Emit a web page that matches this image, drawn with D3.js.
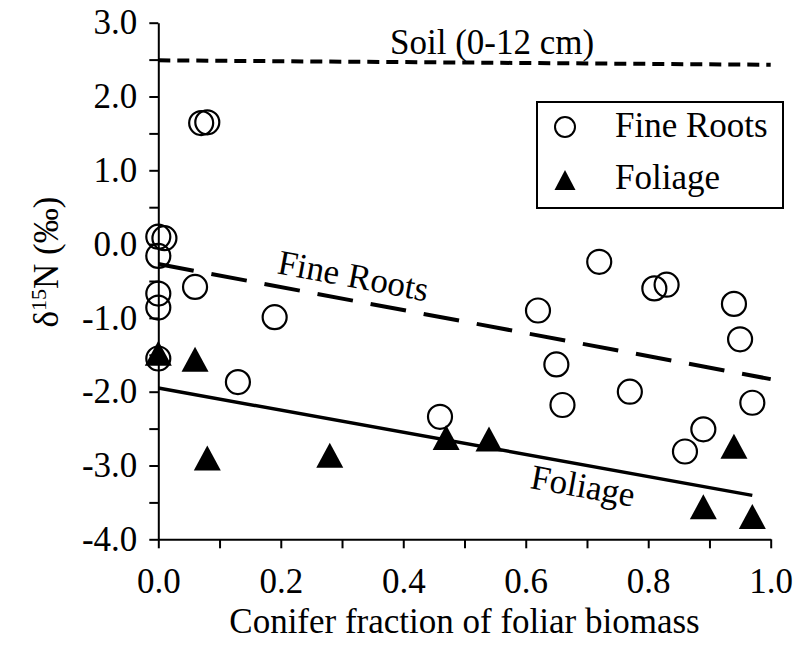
<!DOCTYPE html>
<html>
<head>
<meta charset="utf-8">
<script src="https://cdn.jsdelivr.net/npm/d3@7"></script>
<style>
  body { margin: 0; background: #fff; }
</style>
</head>
<body>
<div id="draw"></div>
<script>
// fine roots
const rootX = [0.0, 0.01, 0.0, 0.0, 0.0, 0.0, 0.06, 0.07, 0.08, 0.13, 0.19, 0.46, 0.62, 0.65, 0.66, 0.72, 0.77, 0.81, 0.83, 0.86, 0.89, 0.94, 0.95, 0.97]
const rootY = [0.10, 0.08, -0.16, -0.67, -0.86, -1.55, -0.58, 1.64, 1.65, -1.87, -0.99, -2.34, -0.90, -1.63, -2.18, -0.24, -2.00, -0.60, -0.55, -2.81, -2.51, -0.81, -1.29, -2.15]

// foliage
const folX = [0.0, 0.06, 0.08, 0.28, 0.47, 0.54, 0.89, 0.94, 0.97]
const folY = [-1.48, -1.56, -2.90, -2.86, -2.62, -2.64, -3.56, -2.74, -3.69]

// fitted lines and soil reference
const rootFitX = [0, 1.0]
const rootFitY = [-0.27, -1.83]
const folFitX = [0, 0.97]
const folFitY = [-1.95, -3.405]
const soilX = [0, 1.0]
const soilY = [2.49, 2.43]

const xTicks = d3.range(0, 11).map(function (i) { return i / 10 })
const yTicks = d3.range(-8, 7).map(function (i) { return i / 2 })

const width = 794
const height = 645
const serif = '"Liberation Serif", "Times New Roman", "DejaVu Serif", serif'

let svg = d3.select('#draw')
  .append('svg')
  .attr('width', width)
  .attr('height', height)

let xScale = d3.scaleLinear().domain([0, 1]).range([158.3, 770.7])
let yScale = d3.scaleLinear().domain([-4, 3]).range([539.3, 22.7])

// plain hyphen for negatives, like the original
let fmt = function (d) { return d.toFixed(1) }

let xAxis = d3.axisBottom(xScale)
  .tickValues(xTicks)
  .tickSize(9)
  .tickSizeOuter(0)
  .tickPadding(20)
  .tickFormat(function (d, i) { return i % 2 === 0 ? fmt(d) : '' })

let yAxis = d3.axisLeft(yScale)
  .tickValues(yTicks)
  .tickSize(9)
  .tickSizeOuter(0)
  .tickPadding(12)
  .tickFormat(function (d) { return Number.isInteger(d) ? fmt(d) : '' })

svg.append('g')
  .attr('class', 'x axis')
  .attr('transform', 'translate(0,' + yScale(-4) + ')')
  .call(xAxis)

svg.append('g')
  .attr('class', 'y axis')
  .attr('transform', 'translate(' + xScale(0) + ',0)')
  .call(yAxis)

svg.selectAll('.axis path, .axis line')
  .attr('stroke', '#000')
  .attr('stroke-width', 2)
svg.selectAll('.axis').attr('font-family', null).attr('font-size', null)
svg.selectAll('.axis text')
  .attr('fill', '#000')

// lines
let line = d3.line()
  .x(function (d) { return xScale(d[0]) })
  .y(function (d) { return yScale(d[1]) })

svg.append('path')
  .datum(d3.zip(soilX, soilY))
  .attr('d', line)
  .attr('fill', 'none')
  .attr('stroke', '#000')
  .attr('stroke-width', 4)
  .attr('stroke-dasharray', '12,7')

svg.append('path')
  .datum(d3.zip(rootFitX, rootFitY))
  .attr('d', line)
  .attr('fill', 'none')
  .attr('stroke', '#000')
  .attr('stroke-width', 4)
  .attr('stroke-dasharray', '36,18')

svg.append('path')
  .datum(d3.zip(folFitX, folFitY))
  .attr('d', line)
  .attr('fill', 'none')
  .attr('stroke', '#000')
  .attr('stroke-width', 3.5)

// triangle centred on its bounding box
function triangle (w, h) {
  return 'M0,' + (-h / 2) + 'L' + (w / 2) + ',' + (h / 2) + 'L' + (-w / 2) + ',' + (h / 2) + 'Z'
}

svg.selectAll('.root')
  .data(d3.zip(rootX, rootY))
  .enter().append('circle')
  .attr('class', 'root')
  .attr('cx', function (d) { return xScale(d[0]) })
  .attr('cy', function (d) { return yScale(d[1]) })
  .attr('r', 12)
  .attr('fill', 'none')
  .attr('stroke', '#000')
  .attr('stroke-width', 2.2)

svg.selectAll('.fol')
  .data(d3.zip(folX, folY))
  .enter().append('path')
  .attr('class', 'fol')
  .attr('d', triangle(27, 25))
  .attr('transform', function (d) { return 'translate(' + xScale(d[0]) + ',' + yScale(d[1]) + ')' })
  .attr('fill', '#000')

// line labels
let slope = function (xs, ys) {
  return Math.atan2(yScale(ys[1]) - yScale(ys[0]), xScale(xs[1]) - xScale(xs[0])) * 180 / Math.PI
}

svg.append('text')
  .attr('x', xScale(0.545))
  .attr('y', yScale(d3.mean(soilY)) - 9)
  .attr('text-anchor', 'middle')
  .text('Soil (0-12 cm)')

let rootLab = 0.315
let rootAt = rootFitY[0] + (rootFitY[1] - rootFitY[0]) * rootLab
svg.append('text')
  .attr('text-anchor', 'middle')
  .attr('transform', 'translate(' + xScale(rootLab) + ',' + (yScale(rootAt) - 13) + ') rotate(' + slope(rootFitX, rootFitY) + ')')
  .text('Fine Roots')

let folLab = 0.69
let folAt = folFitY[0] + (folFitY[1] - folFitY[0]) * folLab / folFitX[1]
svg.append('text')
  .attr('text-anchor', 'middle')
  .attr('transform', 'translate(' + xScale(folLab) + ',' + (yScale(folAt) + 33) + ') rotate(' + slope(folFitX, folFitY) + ')')
  .text('Foliage')

// axis titles
svg.append('text')
  .attr('x', (xScale(0) + xScale(1)) / 2)
  .attr('y', 633)
  .attr('text-anchor', 'middle')
  .text('Conifer fraction of foliar biomass')

let yTitle = svg.append('text')
  .attr('transform', 'translate(58,262) rotate(-90)')
  .attr('text-anchor', 'middle')
yTitle.append('tspan').text('δ')
yTitle.append('tspan').attr('dy', -12).style('font-size', '22px').text('15')
yTitle.append('tspan').attr('dy', 12).text('N (‰)')

// legend
let legend = svg.append('g').attr('class', 'legend')
legend.append('rect')
  .attr('x', 537)
  .attr('y', 102)
  .attr('width', 246)
  .attr('height', 106)
  .attr('fill', '#fff')
  .attr('stroke', '#000')
  .attr('stroke-width', 2)
legend.append('circle')
  .attr('cx', 565)
  .attr('cy', 127)
  .attr('r', 10)
  .attr('fill', 'none')
  .attr('stroke', '#000')
  .attr('stroke-width', 2)
legend.append('path')
  .attr('d', triangle(21, 20))
  .attr('transform', 'translate(565,180)')
  .attr('fill', '#000')
legend.append('text')
  .attr('x', 615)
  .attr('y', 137)
  .text('Fine Roots')
legend.append('text')
  .attr('x', 615)
  .attr('y', 189)
  .text('Foliage')

// one typeface for every label
svg.selectAll('text')
  .style('font-family', serif)
  .style('font-size', function () { return this.style.fontSize || '35px' })
  .attr('fill', '#000')
</script>
</body>
</html>
